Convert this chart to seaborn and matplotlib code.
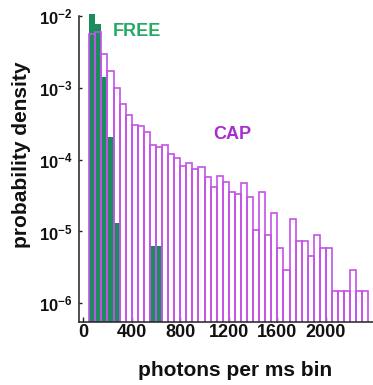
import numpy as np
import pandas as pd
import matplotlib
matplotlib.use("Agg")
import matplotlib.pyplot as plt
from matplotlib.ticker import FixedLocator, FuncFormatter
import seaborn as sns

# Histogram bin edges (photons per 1 ms bin)
bin_width = 50
bin_start = 50
n_bins = 46

# Probability density per bin, CAP condition (bins 50-100, 100-150, ...)
cap_density = [
    5.7e-3, 5.9e-3, 3.0e-3, 1.7e-3, 1.0e-3, 6.0e-4, 4.2e-4, 3.0e-4,
    2.9e-4, 2.45e-4, 1.6e-4, 1.5e-4, 1.6e-4, 1.2e-4, 1.05e-4, 8.2e-5,
    8.9e-5, 7.4e-5, 8.0e-5, 5.8e-5, 4.1e-5, 5.9e-5, 4.9e-5, 3.6e-5,
    3.3e-5, 4.8e-5, 3.0e-5, 1.05e-5, 3.6e-5, 8.9e-6, 1.8e-5, 5.9e-6,
    2.95e-6, 1.48e-5, 7.4e-6, 7.4e-6, 4.5e-6, 8.9e-6, 5.8e-6, 5.8e-6,
    1.5e-6, 1.5e-6, 1.5e-6, 2.95e-6, 1.5e-6, 1.5e-6,
]

# Probability density per bin, FREE condition (only occupied bins)
free_bins_lo = [50, 100, 150, 200, 250, 550, 600]
free_density = [1.05e-2, 7.7e-3, 1.42e-3, 2.1e-4, 1.3e-5, 6.3e-6, 6.3e-6]

x_ticks = [0, 400, 800, 1200, 1600, 2000]
y_ticks = [1e-2, 1e-3, 1e-4, 1e-5, 1e-6]

edges = [float(bin_start + bin_width * i) for i in range(n_bins + 1)]
cap = pd.DataFrame({"photons": [e + bin_width / 2 for e in edges[:-1]],
                    "density": cap_density})
free = pd.DataFrame({"photons": [b + bin_width / 2 for b in free_bins_lo],
                     "density": free_density})

sns.set_style("ticks")
plt.rcParams["font.family"] = ["Liberation Sans", "DejaVu Sans"]
plt.rcParams["font.weight"] = "bold"
plt.rcParams["mathtext.fontset"] = "custom"
plt.rcParams["mathtext.rm"] = "Liberation Sans:bold"
plt.rcParams["mathtext.bf"] = "Liberation Sans:bold"
plt.rcParams["mathtext.it"] = "Liberation Sans:bold"

green_fill = "#1b8c5b"
green_text = "#27a863"
violet_edge = "#c452e6"
violet_text = "#a82cd0"

y_bottom = 10 ** -6.256
y_top = 1.07e-2

fig = plt.figure(figsize=(3.73, 3.85), dpi=100)
ax = fig.add_axes([0.2126, 0.1644, 0.7874, 0.7995])

sns.histplot(data=free, x="photons", weights="density", bins=edges,
             stat="count", element="bars", fill=True, color=green_fill,
             alpha=1.0, edgecolor=green_fill, linewidth=0, ax=ax)
sns.histplot(data=cap, x="photons", weights="density", bins=edges,
             stat="count", element="bars", fill=False, color=violet_edge,
             linewidth=1.2, ax=ax)

ax.set_yscale("log")
ax.set_ylim(y_bottom, y_top)
ax.set_xlim(-32, 2388)

ax.xaxis.set_major_locator(FixedLocator(x_ticks))
ax.yaxis.set_major_locator(FixedLocator(y_ticks))
ax.yaxis.set_minor_locator(FixedLocator([]))
ax.yaxis.set_major_formatter(
    FuncFormatter(lambda v, pos: r"$\mathbf{10^{%d}}$" % int(round(np.log10(v)))))
ax.set_xticklabels([str(t) for t in x_ticks])

ax.tick_params(axis="x", direction="in", length=3.5, width=1.0,
               labelsize=13, pad=2, colors="#222222", labelcolor="#111111")
ax.tick_params(axis="y", direction="in", length=2.5, width=1.0,
               labelsize=12, pad=5, colors="#222222", labelcolor="#111111")
for lab in ax.get_xticklabels() + ax.get_yticklabels():
    lab.set_fontweight("bold")

sns.despine(ax=ax)
for s in ("left", "bottom"):
    ax.spines[s].set_linewidth(1.1)
    ax.spines[s].set_color("#222222")
ax.spines["left"].set_bounds(y_bottom, 1e-2)

ax.set_xlabel("photons per ms bin", fontsize=15, fontweight="bold", color="#111111")
ax.set_ylabel("probability density", fontsize=15, fontweight="bold", color="#111111")
ax.xaxis.set_label_coords(0.532, -0.129)
ax.yaxis.set_label_coords(-0.165, 0.542)

ax.text(0.1147, 0.9428, "FREE", transform=ax.transAxes, color=green_text,
        fontsize=13, fontweight="bold", ha="left", va="center")
ax.text(0.455, 0.6075, "CAP", transform=ax.transAxes, color=violet_text,
        fontsize=13, fontweight="bold", ha="left", va="center")

fig.savefig("out.png", dpi=100)
